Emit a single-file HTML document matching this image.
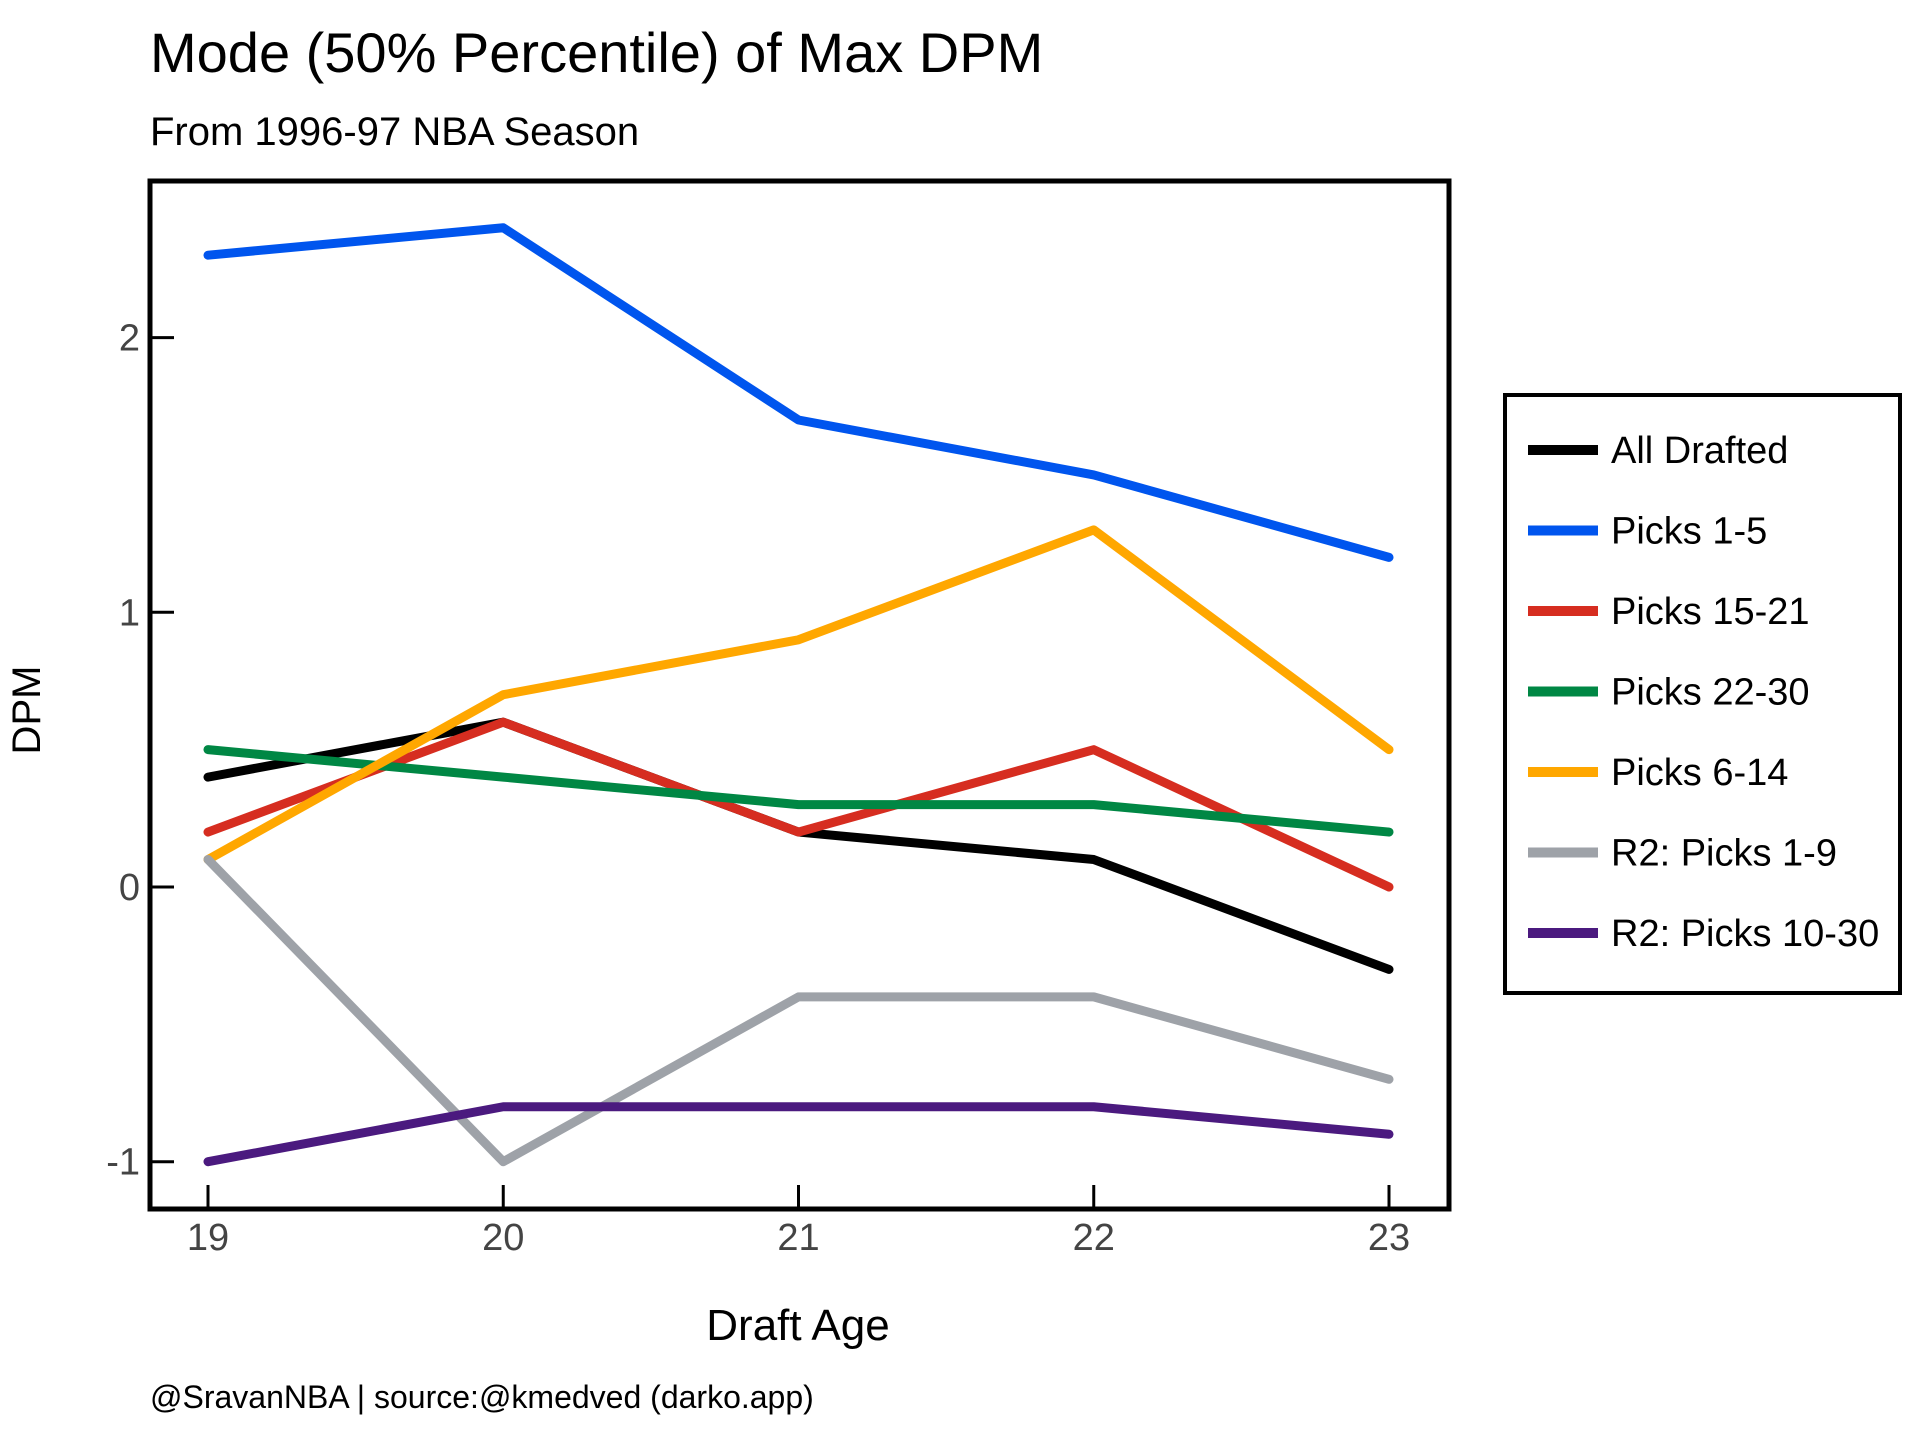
<!DOCTYPE html>
<html><head><meta charset="utf-8"><style>
html,body{margin:0;padding:0;background:#fff;}
svg{display:block;font-family:"Liberation Sans",sans-serif;}
</style></head><body>
<svg id="chart" width="1920" height="1440" viewBox="0 0 1920 1440">
<text x="150" y="72" font-size="56" fill="#000">Mode (50% Percentile) of Max DPM</text>
<text x="150" y="145" font-size="40" fill="#000">From 1996-97 NBA Season</text>
<rect x="150" y="181" width="1299" height="1028" fill="none" stroke="#000" stroke-width="5"/>
<g id="xticks"></g>
<g id="yticks"></g>
<g id="series"></g>
<text x="40" y="710" font-size="40" fill="#000" text-anchor="middle" transform="rotate(-90 40 710)">DPM</text>
<text x="798" y="1340" font-size="44" fill="#000" text-anchor="middle">Draft Age</text>
<text x="150" y="1408" font-size="32" fill="#000">@SravanNBA | source:@kmedved (darko.app)</text>
<rect x="1505" y="395" width="395" height="598" fill="#fff" stroke="#000" stroke-width="4"/>
<g id="legend"></g>
</svg>
<script>
const ages = [19, 20, 21, 22, 23];
const yTicks = [-1, 0, 1, 2];
const seriesNames = ["All Drafted","Picks 1-5","Picks 15-21","Picks 22-30","Picks 6-14","R2: Picks 1-9","R2: Picks 10-30"];
const seriesColors = ["#000000","#0055ee","#d62d20","#008744","#ffa700","#9ea2a8","#4b1a7f"];
const allDrafted = [0.4, 0.6, 0.2, 0.1, -0.3];
const picks1to5 = [2.3, 2.4, 1.7, 1.5, 1.2];
const picks15to21 = [0.2, 0.6, 0.2, 0.5, 0.0];
const picks22to30 = [0.5, 0.4, 0.3, 0.3, 0.2];
const picks6to14 = [0.1, 0.7, 0.9, 1.3, 0.5];
const r2picks1to9 = [0.1, -1.0, -0.4, -0.4, -0.7];
const r2picks10to30 = [-1.0, -0.8, -0.8, -0.8, -0.9];
const seriesValues = [allDrafted, picks1to5, picks15to21, picks22to30, picks6to14, r2picks1to9, r2picks10to30];

const NS = "http://www.w3.org/2000/svg";
function xs(a){ return 208 + (a - 19) * (1389 - 208) / 4; }
function ys(v){ return 887 - v * 274.7; }
function mk(tag, attrs, parent){ const e = document.createElementNS(NS, tag); for (const k in attrs) e.setAttribute(k, attrs[k]); parent.appendChild(e); return e; }

const xg = document.getElementById("xticks");
ages.forEach(a => {
  const t = mk("line", {x1: xs(a), x2: xs(a), y1: 1209, y2: 1185, stroke: "#000", "stroke-width": 3}, xg);
  
  
  const l = mk("text", {x: xs(a), y: 1250, "font-size": 38, fill: "#444", "text-anchor": "middle"}, xg);
  l.textContent = a;
  
  
});
const yg = document.getElementById("yticks");
yTicks.forEach(v => {
  const t = mk("line", {x1: 150, x2: 174, y1: ys(v), y2: ys(v), stroke: "#000", "stroke-width": 3}, yg);
  
  
  const l = mk("text", {x: 140, y: ys(v) + 13, "font-size": 38, fill: "#444", "text-anchor": "end"}, yg);
  l.textContent = v;
  
  
});
const sg = document.getElementById("series");
seriesValues.forEach((vals, i) => {
  const pts = vals.map((v, j) => xs(ages[j]) + "," + ys(v)).join(" ");
  const p = mk("polyline", {points: pts, fill: "none", stroke: seriesColors[i], "stroke-width": 9, "stroke-linejoin": "round", "stroke-linecap": "round"}, sg);
  
  
});
const lg = document.getElementById("legend");
seriesNames.forEach((n, i) => {
  const y = 450 + i * 80.5;
  const l = mk("line", {x1: 1528, x2: 1598, y1: y, y2: y, stroke: seriesColors[i], "stroke-width": 10}, lg);
  
  
  const t = mk("text", {x: 1611, y: y + 13, "font-size": 38, fill: "#000"}, lg);
  t.textContent = n;
  
  
});
</script>
</body></html>
